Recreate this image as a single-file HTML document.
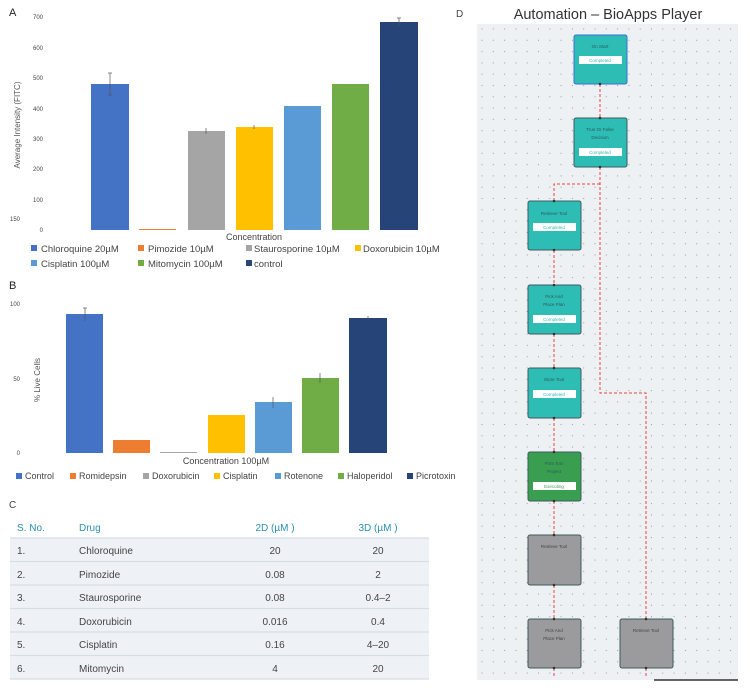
<!DOCTYPE html><html><head><meta charset="utf-8"><style>
body{margin:0;background:#fff;width:750px;height:694px;overflow:hidden}
svg{display:block;font-family:"Liberation Sans",sans-serif}
</style></head><body>
<svg width="750" height="694" viewBox="0 0 750 694">
<defs>
<pattern id="dots" x="481" y="28" width="11.3" height="11.3" patternUnits="userSpaceOnUse"><circle cx="1" cy="1" r="0.6" fill="#9aa3ad"/></pattern>
</defs>
<!-- Panel A -->
<text x="9" y="16" font-size="11" fill="#222">A</text>
<g font-size="6" fill="#444" text-anchor="end">
<text x="43" y="19">700</text><text x="43" y="50">600</text><text x="43" y="80">500</text><text x="43" y="111">400</text><text x="43" y="141">300</text><text x="43" y="171">200</text><text x="43" y="202">100</text><text x="43" y="232">0</text>
</g>
<text x="10" y="221" font-size="6" fill="#444">150</text>
<text transform="translate(20,125) rotate(-90)" font-size="8" fill="#555" text-anchor="middle">Average Intensity (FITC)</text>
<rect x="91" y="84" width="38" height="146" fill="#4472c4"/>
<rect x="139" y="229" width="37" height="1" fill="#ed7d31"/>
<rect x="188" y="131" width="37" height="99" fill="#a5a5a5"/>
<rect x="236" y="127" width="37" height="103" fill="#ffc000"/>
<rect x="284" y="106" width="37" height="124" fill="#5b9bd5"/>
<rect x="332" y="84" width="37" height="146" fill="#70ad47"/>
<rect x="380" y="22" width="38" height="208" fill="#264478"/>
<g stroke="#555" stroke-width="0.7">
<line x1="110" y1="73" x2="110" y2="95"/><line x1="108" y1="73" x2="112" y2="73"/><line x1="108" y1="95" x2="112" y2="95"/>
<line x1="206" y1="128" x2="206" y2="134"/><line x1="254" y1="125" x2="254" y2="129"/><line x1="399" y1="18" x2="399" y2="26"/><line x1="397" y1="18" x2="401" y2="18"/>
</g>
<text x="254" y="240" font-size="9" fill="#444" text-anchor="middle">Concentration</text>
<g font-size="9.5" fill="#444">
<rect x="31" y="245" width="6" height="6" fill="#4472c4"/><text x="41" y="252">Chloroquine 20µM</text>
<rect x="138" y="245" width="6" height="6" fill="#ed7d31"/><text x="148" y="252">Pimozide  10µM</text>
<rect x="246" y="245" width="6" height="6" fill="#a5a5a5"/><text x="254" y="252">Staurosporine  10µM</text>
<rect x="355" y="245" width="6" height="6" fill="#ffc000"/><text x="363" y="252">Doxorubicin 10µM</text>
<rect x="31" y="260" width="6" height="6" fill="#5b9bd5"/><text x="41" y="267">Cisplatin  100µM</text>
<rect x="138" y="260" width="6" height="6" fill="#70ad47"/><text x="148" y="267">Mitomycin  100µM</text>
<rect x="246" y="260" width="6" height="6" fill="#264478"/><text x="254" y="267">control</text>
</g>
<!-- Panel B -->
<text x="9" y="289" font-size="11" fill="#222">B</text>
<g font-size="6" fill="#444" text-anchor="end"><text x="20" y="306">100</text><text x="20" y="381">50</text><text x="20" y="455">0</text></g>
<text transform="translate(40,380) rotate(-90)" font-size="8" fill="#555" text-anchor="middle">% Live Cells</text>
<rect x="66" y="314" width="37" height="139" fill="#4472c4"/>
<rect x="113" y="440" width="37" height="13" fill="#ed7d31"/>
<rect x="160" y="452" width="37" height="1" fill="#a5a5a5"/>
<rect x="208" y="415" width="37" height="38" fill="#ffc000"/>
<rect x="255" y="402" width="37" height="51" fill="#5b9bd5"/>
<rect x="302" y="378" width="37" height="75" fill="#70ad47"/>
<rect x="349" y="318" width="38" height="135" fill="#264478"/>
<g stroke="#555" stroke-width="0.7">
<line x1="85" y1="308" x2="85" y2="321"/><line x1="83" y1="308" x2="87" y2="308"/>
<line x1="273" y1="397" x2="273" y2="408"/><line x1="320" y1="373" x2="320" y2="383"/><line x1="368" y1="316" x2="368" y2="320"/>
</g>
<text x="226" y="464" font-size="9" fill="#444" text-anchor="middle">Concentration 100µM</text>
<g font-size="9" fill="#444">
<rect x="16" y="473" width="6" height="6" fill="#4472c4"/><text x="25" y="479">Control</text>
<rect x="70" y="473" width="6" height="6" fill="#ed7d31"/><text x="79" y="479">Romidepsin</text>
<rect x="143" y="473" width="6" height="6" fill="#a5a5a5"/><text x="152" y="479">Doxorubicin</text>
<rect x="214" y="473" width="6" height="6" fill="#ffc000"/><text x="223" y="479">Cisplatin</text>
<rect x="275" y="473" width="6" height="6" fill="#5b9bd5"/><text x="284" y="479">Rotenone</text>
<rect x="338" y="473" width="6" height="6" fill="#70ad47"/><text x="347" y="479">Haloperidol</text>
<rect x="407" y="473" width="6" height="6" fill="#264478"/><text x="416" y="479">Picrotoxin</text>
</g>
<!-- Panel C -->
<text x="9" y="508" font-size="10" fill="#444">C</text>
<g font-size="10" fill="#2a8fb0"><text x="17" y="531">S. No.</text><text x="79" y="531">Drug</text><text x="275" y="531" text-anchor="middle">2D (µM )</text><text x="378" y="531" text-anchor="middle">3D (µM )</text></g>
<rect x="10" y="538" width="419" height="141" fill="#eef2f6"/>
<g stroke="#d6dde4" stroke-width="1.2"><line x1="10" y1="538" x2="429" y2="538"/><line x1="10" y1="561.5" x2="429" y2="561.5"/><line x1="10" y1="585" x2="429" y2="585"/><line x1="10" y1="608.5" x2="429" y2="608.5"/><line x1="10" y1="632" x2="429" y2="632"/><line x1="10" y1="655.5" x2="429" y2="655.5"/><line x1="10" y1="679" x2="429" y2="679"/></g>
<g font-size="10" fill="#444">
<text x="17" y="554">1.</text><text x="79" y="554">Chloroquine</text><text x="275" y="554" text-anchor="middle">20</text><text x="378" y="554" text-anchor="middle">20</text>
<text x="17" y="578">2.</text><text x="79" y="578">Pimozide</text><text x="275" y="578" text-anchor="middle">0.08</text><text x="378" y="578" text-anchor="middle">2</text>
<text x="17" y="601">3.</text><text x="79" y="601">Staurosporine</text><text x="275" y="601" text-anchor="middle">0.08</text><text x="378" y="601" text-anchor="middle">0.4–2</text>
<text x="17" y="625">4.</text><text x="79" y="625">Doxorubicin</text><text x="275" y="625" text-anchor="middle">0.016</text><text x="378" y="625" text-anchor="middle">0.4</text>
<text x="17" y="648">5.</text><text x="79" y="648">Cisplatin</text><text x="275" y="648" text-anchor="middle">0.16</text><text x="378" y="648" text-anchor="middle">4–20</text>
<text x="17" y="672">6.</text><text x="79" y="672">Mitomycin</text><text x="275" y="672" text-anchor="middle">4</text><text x="378" y="672" text-anchor="middle">20</text>
</g>
<!-- Panel D -->
<text x="456" y="17" font-size="10" fill="#444">D</text>
<text x="608" y="19" font-size="14.5" fill="#333" text-anchor="middle">Automation – BioApps Player</text>
<rect x="477" y="24" width="261" height="656" fill="#eef1f4"/>
<rect x="477" y="24" width="261" height="656" fill="url(#dots)"/>
<line x1="654" y1="680" x2="738" y2="680" stroke="#333" stroke-width="1.5"/>
<g stroke="#e8443a" stroke-width="1" stroke-dasharray="3,2" fill="none">
<path d="M600 84V118"/><path d="M600 167V393H646V619"/><path d="M600 184H554V201"/>
<path d="M554 250V285"/><path d="M554 334V368"/><path d="M554 418V452"/><path d="M554 501V535"/><path d="M554 585V619"/><path d="M554 668V676"/><path d="M646 668V676"/>
</g>
<g stroke="#3d5a60" stroke-width="1">
<rect x="574" y="35" width="53" height="49" rx="2" fill="#2dbdb5" stroke="#3a6fd0"/>
<rect x="574" y="118" width="53" height="49" rx="2" fill="#2dbdb5"/>
<rect x="528" y="201" width="53" height="49" rx="2" fill="#2dbdb5"/>
<rect x="528" y="285" width="53" height="49" rx="2" fill="#2dbdb5"/>
<rect x="528" y="368" width="53" height="50" rx="2" fill="#2dbdb5"/>
<rect x="528" y="452" width="53" height="49" rx="2" fill="#3a9e50"/>
<rect x="528" y="535" width="53" height="50" rx="2" fill="#9b9b9d"/>
<rect x="528" y="619" width="53" height="49" rx="2" fill="#9b9b9d"/>
<rect x="620" y="619" width="53" height="49" rx="2" fill="#9b9b9d"/>
</g>
<g fill="#fff"><rect x="579" y="56" width="43" height="8"/><rect x="579" y="148" width="43" height="8"/><rect x="533" y="223" width="43" height="8"/><rect x="533" y="315" width="43" height="8"/><rect x="533" y="390" width="43" height="8"/><rect x="533" y="482" width="43" height="8"/></g>
<g font-size="4.5" text-anchor="middle" fill="#2a5a5a">
<text x="600" y="48">On Start</text><text x="600" y="62" fill="#2dbdb5">Completed</text>
<text x="600" y="131">True Or False</text><text x="600" y="139">Decision</text><text x="600" y="154" fill="#2dbdb5">Completed</text>
<text x="554" y="215">Retrieve Tool</text><text x="554" y="229" fill="#2dbdb5">Completed</text>
<text x="554" y="298">Pick And</text><text x="554" y="306">Place Plan</text><text x="554" y="321" fill="#2dbdb5">Completed</text>
<text x="554" y="381">Store Tool</text><text x="554" y="396" fill="#2dbdb5">Completed</text>
<text x="554" y="465">Print Tom</text><text x="554" y="473">Project</text><text x="554" y="488" fill="#3a9e50">Executing</text>
<text x="554" y="548" fill="#444">Retrieve Tool</text>
<text x="554" y="632" fill="#444">Pick And</text><text x="554" y="640" fill="#444">Place Plan</text>
<text x="646" y="632" fill="#444">Retrieve Tool</text>
</g>
<g fill="#333"><circle cx="600" cy="84" r="1.3"/><circle cx="600" cy="118" r="1.3"/><circle cx="600" cy="167" r="1.3"/><circle cx="554" cy="201" r="1.3"/><circle cx="554" cy="250" r="1.3"/><circle cx="554" cy="285" r="1.3"/><circle cx="554" cy="334" r="1.3"/><circle cx="554" cy="368" r="1.3"/><circle cx="554" cy="418" r="1.3"/><circle cx="554" cy="452" r="1.3"/><circle cx="554" cy="501" r="1.3"/><circle cx="554" cy="535" r="1.3"/><circle cx="554" cy="585" r="1.3"/><circle cx="554" cy="619" r="1.3"/><circle cx="554" cy="668" r="1.3"/><circle cx="646" cy="619" r="1.3"/><circle cx="646" cy="668" r="1.3"/></g>
</svg>
</body></html>
